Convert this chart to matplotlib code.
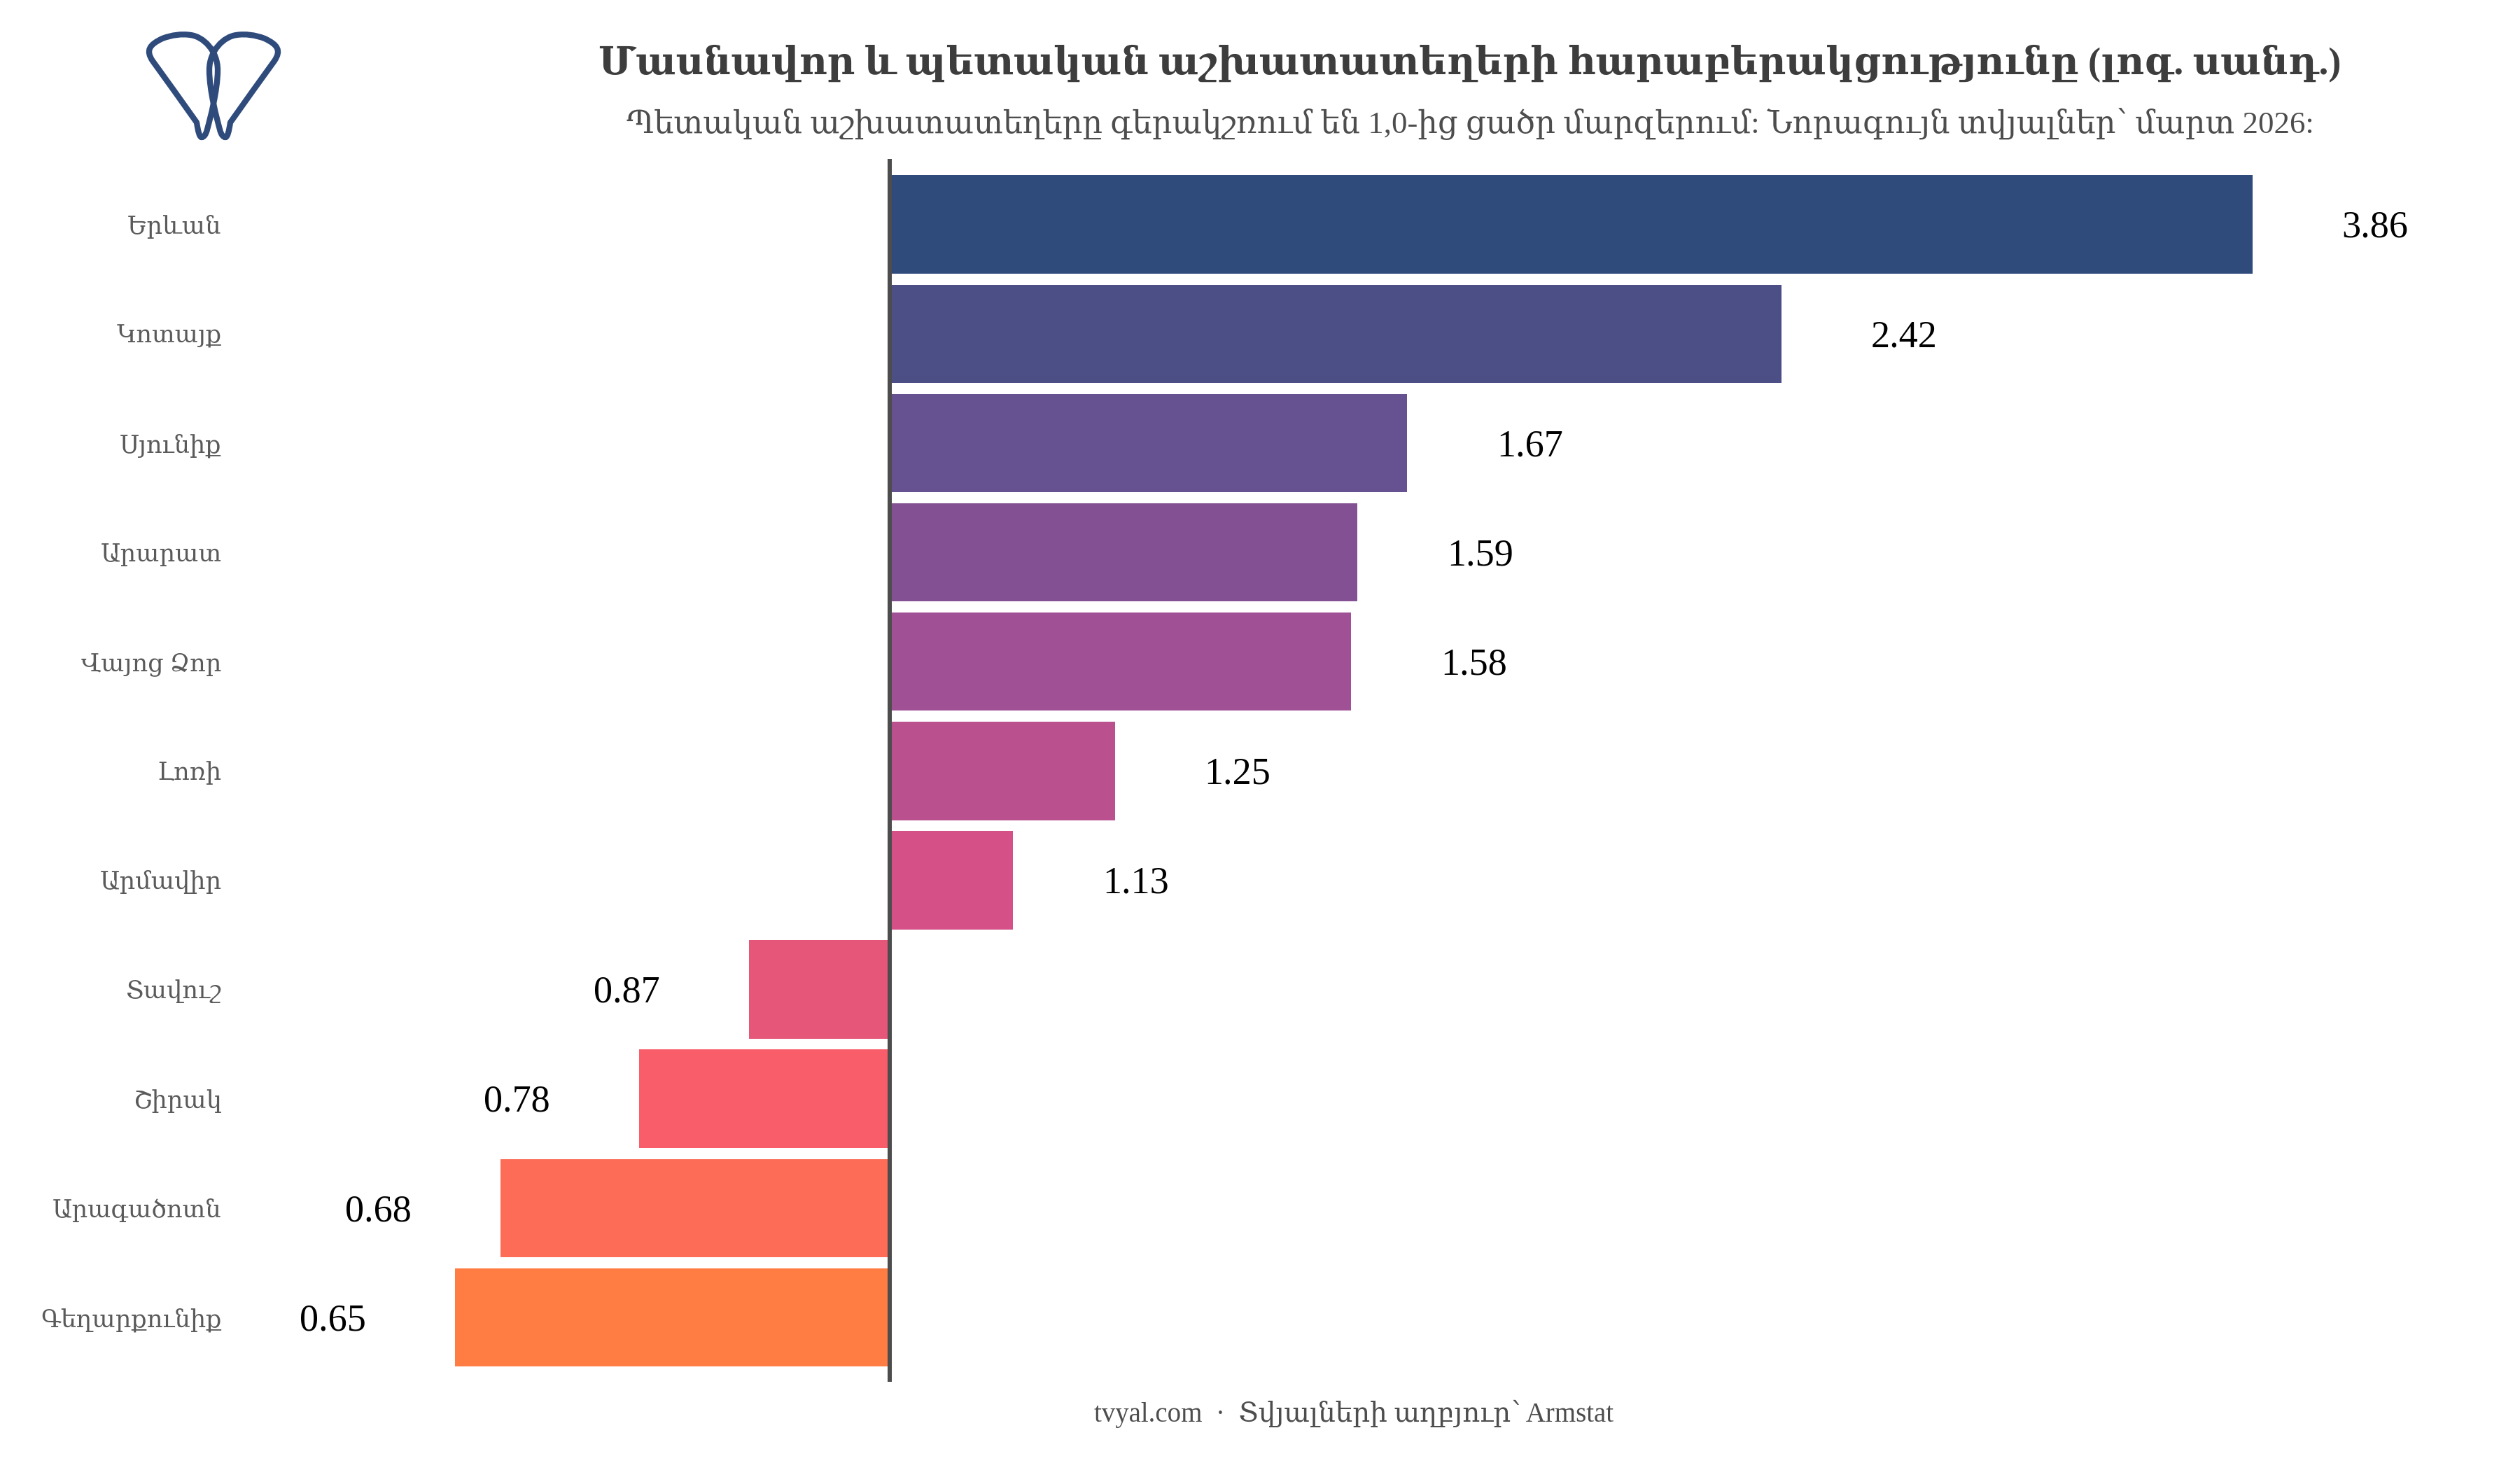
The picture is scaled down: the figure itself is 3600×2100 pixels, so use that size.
import matplotlib
matplotlib.use("Agg")
import matplotlib.pyplot as plt
from matplotlib.path import Path
from matplotlib.patches import PathPatch
import numpy as np

regions = ["Երևան", "Կոտայք", "Սյունիք", "Արարատ", "Վայոց Ձոր", "Լոռի",
           "Արմավիր", "Տավուշ", "Շիրակ", "Արագածոտն", "Գեղարքունիք"]
ratios = [3.86, 2.42, 1.67, 1.59, 1.58, 1.25, 1.13, 0.87, 0.78, 0.68, 0.65]
bar_colors = ["#2f4b7c", "#4b4f86", "#665191", "#835193", "#a05195", "#ba508e",
              "#d45087", "#e65678", "#f95d6a", "#fc6c56", "#ff7c43"]

title = "Մասնավոր և պետական աշխատատեղերի հարաբերակցությունը (լոգ. սանդ.)"
subtitle = "Պետական աշխատատեղերը գերակշռում են 1,0-ից ցածր մարզերում: Նորագույն տվյալներ՝ մարտ 2026:"
caption = "tvyal.com  ·  Տվյալների աղբյուր՝ Armstat"

W, H = 3600, 2100
serif = ["Liberation Serif", "DejaVu Serif"]
plt.rcParams["font.family"] = serif

fig = plt.figure(figsize=(12, 7), dpi=300, facecolor="white")

# main panel, placed in pixels
left, right, top, bottom = 329, 3520, 227, 1974
ax = fig.add_axes([left / W, 1 - bottom / H, (right - left) / W, (bottom - top) / H])
ax.set_xscale("log")
px_per_decade = 3319
ax.set_xlim(10 ** ((left - 1271) / px_per_decade), 10 ** ((right - 1271) / px_per_decade))
ax.set_ylim(10.59, -0.6)

ypos = np.arange(len(regions))
vals = np.array(ratios)
ax.barh(ypos, vals - 1, left=1, height=0.9, color=bar_colors, linewidth=0)
ax.axvline(1, color="#4d4d4d", linewidth=1.45, zorder=3)

for y, v in zip(ypos, vals):
    off = 42 if v >= 1 else -42
    ax.annotate(f"{v:.2f}", (v, y), xytext=(off, -1.2), textcoords="offset points",
                ha="center", va="center", fontsize=13, color="black")

ax.set_yticks(ypos)
ax.set_yticklabels(regions, fontsize=8.45, color="#5a5a5a", family=serif)
ax.tick_params(axis="y", length=0, pad=3)
ax.xaxis.set_visible(False)
ax.minorticks_off()
for s in ax.spines.values():
    s.set_visible(False)
ax.patch.set_alpha(0)

# header and footer
fig.text(2100 / W, 1 - 91 / H, title, ha="center", va="center", fontsize=13.1,
         fontweight="bold", color="#3d3d3d")
fig.text(2100 / W, 1 - 177 / H, subtitle, ha="center", va="center", fontsize=10.77,
         color="#4d4d4d")
fig.text(1934 / W, 1 - 2020 / H, caption, ha="center", va="center", fontsize=9.35,
         color="#4d4d4d")

# logo: two crossed teardrops
logo = fig.add_axes([0, 0, 1, 1], facecolor="none")
logo.set_xlim(0, W)
logo.set_ylim(H, 0)
logo.axis("off")

drop_x = np.array([288, 285, 283, 281, 260, 238, 218, 208, 213, 232,
                   245, 260, 272, 290, 311, 311, 311, 300, 296, 294, 291, 288])
drop_y = np.array([196, 196, 188, 175, 145, 115, 87, 72, 64, 55,
                   50, 48, 50, 52, 72, 100, 130, 170, 185, 193, 196, 196])
codes = [Path.MOVETO] + [Path.CURVE4] * 21
for xs in (drop_x, 2 * 305 - drop_x):
    p = Path(np.column_stack([xs, drop_y]), codes)
    logo.add_patch(PathPatch(p, fill=False, edgecolor="#2f4b7c", linewidth=2.0,
                             joinstyle="round", capstyle="round"))

fig.savefig("out.png", dpi=300, facecolor="white")
